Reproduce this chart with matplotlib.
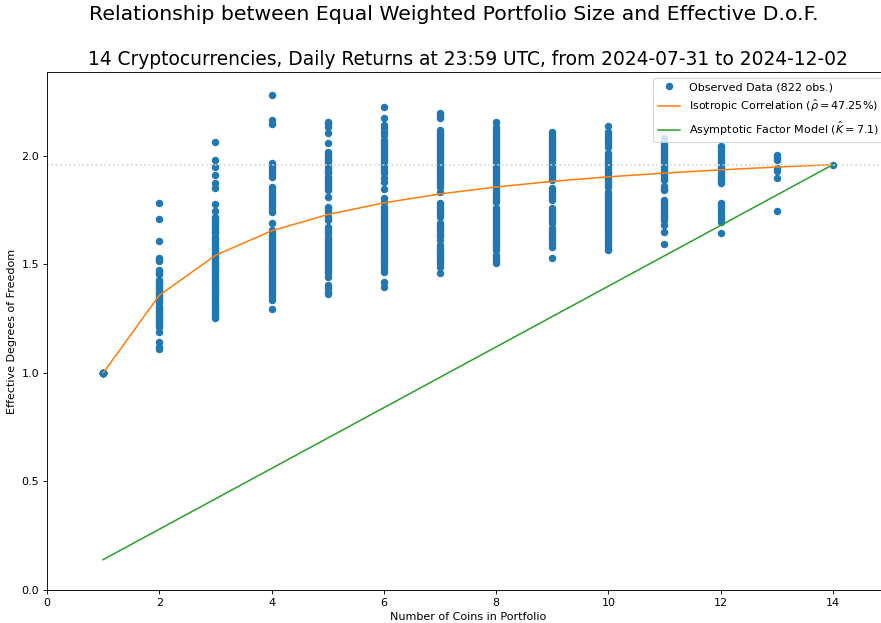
import numpy as np
import matplotlib
matplotlib.use('Agg')
import matplotlib.pyplot as plt

# observed effective D.o.F. per portfolio size
obs_k1 = [1.000, 1.000, 1.000, 1.000, 1.000, 1.000, 1.000, 1.000, 1.000, 1.000, 1.000, 1.000, 1.000, 1.000]
obs_k2 = [1.785, 1.711, 1.610, 1.528, 1.522, 1.518, 1.475, 1.468, 1.461, 1.456, 1.429, 1.420, 1.411, 1.402,
          1.395, 1.386, 1.378, 1.370, 1.362, 1.353, 1.345, 1.337, 1.329, 1.321, 1.306, 1.298, 1.290, 1.281,
          1.272, 1.263, 1.255, 1.246, 1.238, 1.229, 1.221, 1.213, 1.190, 1.144, 1.121, 1.109]
obs_k3 = [2.063, 1.982, 1.949, 1.912, 1.874, 1.851, 1.779, 1.748, 1.720, 1.711, 1.700, 1.690, 1.680, 1.670,
          1.660, 1.652, 1.644, 1.628, 1.618, 1.608, 1.598, 1.588, 1.578, 1.568, 1.558, 1.548, 1.538, 1.528,
          1.518, 1.508, 1.498, 1.488, 1.478, 1.468, 1.458, 1.448, 1.438, 1.428, 1.418, 1.408, 1.398, 1.388,
          1.378, 1.368, 1.358, 1.348, 1.338, 1.328, 1.318, 1.308, 1.298, 1.288, 1.278, 1.268, 1.260, 1.252]
obs_k4 = [2.280, 2.166, 2.147, 1.966, 1.955, 1.945, 1.930, 1.918, 1.905, 1.859, 1.848, 1.835, 1.822, 1.808,
          1.795, 1.782, 1.770, 1.757, 1.743, 1.690, 1.659, 1.648, 1.636, 1.624, 1.612, 1.600, 1.588, 1.576,
          1.564, 1.552, 1.540, 1.528, 1.516, 1.504, 1.492, 1.480, 1.468, 1.456, 1.444, 1.432, 1.420, 1.408,
          1.396, 1.384, 1.372, 1.360, 1.348, 1.336, 1.295]
obs_k5 = [2.158, 2.147, 2.135, 2.107, 2.058, 2.020, 2.008, 1.995, 1.983, 1.970, 1.958, 1.945, 1.933, 1.920,
          1.905, 1.893, 1.880, 1.868, 1.855, 1.843, 1.813, 1.767, 1.755, 1.743, 1.720, 1.705, 1.674, 1.659,
          1.644, 1.628, 1.616, 1.604, 1.592, 1.580, 1.568, 1.556, 1.544, 1.532, 1.520, 1.508, 1.496, 1.490,
          1.475, 1.460, 1.444, 1.406, 1.390, 1.375, 1.364]
obs_k6 = [2.227, 2.174, 2.143, 2.128, 2.112, 2.097, 2.074, 2.062, 2.050, 2.038, 2.026, 2.014, 2.002, 1.990,
          1.982, 1.966, 1.950, 1.935, 1.920, 1.897, 1.882, 1.848, 1.805, 1.790, 1.767, 1.755, 1.743, 1.731,
          1.719, 1.707, 1.695, 1.683, 1.671, 1.659, 1.647, 1.635, 1.628, 1.613, 1.601, 1.589, 1.577, 1.565,
          1.553, 1.541, 1.529, 1.517, 1.505, 1.493, 1.481, 1.467, 1.421, 1.395]
obs_k7 = [2.197, 2.186, 2.174, 2.120, 2.108, 2.096, 2.084, 2.072, 2.060, 2.048, 2.036, 2.024, 2.012, 2.000,
          1.988, 1.976, 1.964, 1.952, 1.940, 1.928, 1.916, 1.904, 1.892, 1.880, 1.869, 1.859, 1.836, 1.782,
          1.770, 1.758, 1.745, 1.732, 1.720, 1.690, 1.678, 1.666, 1.654, 1.642, 1.630, 1.613, 1.590, 1.578,
          1.566, 1.554, 1.542, 1.530, 1.518, 1.506, 1.490, 1.459]
obs_k8 = [2.158, 2.135, 2.123, 2.111, 2.099, 2.087, 2.075, 2.063, 2.051, 2.039, 2.027, 2.015, 2.003, 1.991,
          1.979, 1.967, 1.955, 1.943, 1.931, 1.919, 1.907, 1.895, 1.883, 1.871, 1.859, 1.847, 1.835, 1.823,
          1.811, 1.799, 1.790, 1.759, 1.747, 1.735, 1.723, 1.711, 1.699, 1.687, 1.675, 1.663, 1.651, 1.639,
          1.627, 1.615, 1.603, 1.591, 1.579, 1.567, 1.544, 1.530, 1.518, 1.505]
obs_k9 = [2.112, 2.100, 2.088, 2.076, 2.064, 2.052, 2.040, 2.028, 2.016, 2.004, 1.992, 1.980, 1.968, 1.956,
          1.944, 1.932, 1.920, 1.908, 1.896, 1.889, 1.851, 1.838, 1.824, 1.810, 1.797, 1.759, 1.745, 1.731,
          1.717, 1.703, 1.690, 1.667, 1.654, 1.641, 1.628, 1.613, 1.598, 1.582, 1.528]
obs_k10 = [2.138, 2.112, 2.100, 2.088, 2.076, 2.064, 2.052, 2.043, 2.012, 2.000, 1.988, 1.976, 1.964, 1.952,
           1.940, 1.928, 1.916, 1.904, 1.892, 1.880, 1.868, 1.859, 1.836, 1.824, 1.812, 1.800, 1.788, 1.776,
           1.764, 1.752, 1.740, 1.728, 1.716, 1.704, 1.692, 1.680, 1.668, 1.656, 1.644, 1.632, 1.620, 1.608,
           1.596, 1.584, 1.572, 1.567]
obs_k11 = [2.085, 2.070, 2.055, 2.043, 2.031, 2.019, 2.007, 1.995, 1.983, 1.971, 1.959, 1.947, 1.935, 1.923,
           1.911, 1.899, 1.889, 1.862, 1.850, 1.843, 1.797, 1.785, 1.773, 1.761, 1.749, 1.737, 1.725, 1.713,
           1.705, 1.682, 1.648, 1.593]
obs_k12 = [2.048, 2.038, 2.028, 2.018, 2.006, 1.994, 1.982, 1.970, 1.958, 1.946, 1.934, 1.922, 1.910,
           1.898, 1.886, 1.874, 1.782, 1.770, 1.758, 1.746, 1.734, 1.722, 1.710, 1.697, 1.644]
obs_k13 = [2.006, 2.000, 1.990, 1.982, 1.943, 1.932, 1.897, 1.748]
obs_k14 = [1.960]

n_coins = [1, 2, 3, 4, 5, 6, 7, 8, 9, 10, 11, 12, 13, 14]
iso_fit = [1.000, 1.358, 1.542, 1.655, 1.730, 1.784, 1.825, 1.857, 1.883, 1.904, 1.921, 1.936, 1.949, 1.960]
afm_fit = [0.14, 0.28, 0.42, 0.56, 0.70, 0.84, 0.98, 1.12, 1.26, 1.40, 1.54, 1.68, 1.82, 1.96]
full_dof = 1.96

obs_cols = [obs_k1, obs_k2, obs_k3, obs_k4, obs_k5, obs_k6, obs_k7,
            obs_k8, obs_k9, obs_k10, obs_k11, obs_k12, obs_k13, obs_k14]
xs = []
ys = []
for k, col in zip(n_coins, obs_cols):
    xs += [k] * len(col)
    ys += col

DPI = 80
fig = plt.figure(figsize=(881./DPI, 623./DPI), dpi=DPI)
ax = fig.add_axes([47/881., 33/623., 842/881., 518/623.])

ax.plot(xs, ys, 'o', markersize=5.7, label='Observed Data (822 obs.)')
ax.plot(n_coins, iso_fit, linewidth=1.4, label=r'Isotropic Correlation ($\hat{\rho}=47.25\%$)')
ax.plot(n_coins, afm_fit, linewidth=1.4, label=r'Asymptotic Factor Model ($\hat{K}=7.1$)')
ax.axhline(full_dof, color='lightgrey', linestyle=':')

ax.set_xlim(0, 15)
ax.set_ylim(0, 2.387)
ax.set_xlabel('Number of Coins in Portfolio')
ax.set_ylabel('Effective Degrees of Freedom')
ax.set_title('14 Cryptocurrencies, Daily Returns at 23:59 UTC, from 2024-07-31 to 2024-12-02', fontsize=16.8)
fig.suptitle('Relationship between Equal Weighted Portfolio Size and Effective D.o.F.',
             fontsize=18.4, x=454/881., y=1 - 5/623.)
ax.legend(loc='upper right')

fig.savefig('out.png', dpi=DPI)
